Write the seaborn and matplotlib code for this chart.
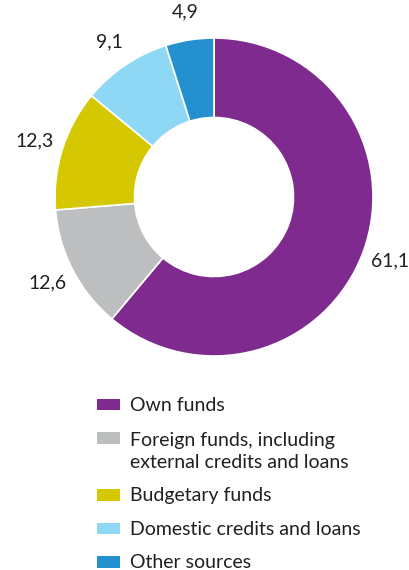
import matplotlib
matplotlib.use("Agg")
import matplotlib.pyplot as plt
from matplotlib.patches import Rectangle
import seaborn as sns

# Structure of investment financing sources, %
categories = [
    "Own funds",
    "Foreign funds, including\nexternal credits and loans",
    "Budgetary funds",
    "Domestic credits and loans",
    "Other sources",
]
shares = [61.1, 12.6, 12.3, 9.1, 4.9]
value_labels = ["61,1", "12,6", "12,3", "9,1", "4,9"]
colors = sns.color_palette(["#7E2A8E", "#BDBEC0", "#D6C800", "#8FD8F5", "#2490D0"])

sns.set_theme(style="white")
plt.rcParams["font.family"] = ["Lato", "DejaVu Sans"]
TEXT = "#231F20"
FS = 14

W, H = 409, 570
fig = plt.figure(figsize=(W / 100, H / 100), dpi=100)

# donut axes: centre at (214, 197) px from top, radius 159 px
cx, cy, r_px = 214, 197, 159
lim = 1.3
side = 2 * lim * r_px
ax = fig.add_axes([(cx - side / 2) / W, (H - cy - side / 2) / H, side / W, side / H])
wedges, texts = ax.pie(
    shares,
    colors=colors,
    labels=value_labels,
    startangle=90,
    counterclock=False,
    labeldistance=1.18,
    radius=1.0,
    wedgeprops=dict(width=0.5, edgecolor="white", linewidth=1.2),
    textprops=dict(fontsize=FS, color=TEXT),
)
for t in texts:
    t.set_ha("center")
    t.set_va("center")
ax.set_xlim(-lim, lim)
ax.set_ylim(-lim, lim)
ax.set_aspect("equal")
ax.axis("off")

# legend: colour swatch aligned with the first line of each entry
sw_x, sw_w, sw_h = 97, 23, 11.5
txt_x = 130
row_gap, line_gap = 33.5, 23.5
yc = 404.5
for label, col in zip(categories, colors):
    extra = label.count("\n")
    fig.patches.append(Rectangle(
        (sw_x / W, 1 - (yc + sw_h / 2) / H), sw_w / W, sw_h / H,
        transform=fig.transFigure, facecolor=col, edgecolor="none"))
    # baseline alignment refers to the last line of a wrapped label
    fig.text(txt_x / W, 1 - (yc + 6.5 + line_gap * extra) / H, label,
             fontsize=FS, color=TEXT, ha="left", va="baseline", linespacing=1.34)
    yc += row_gap + line_gap * extra

fig.savefig("out.png", dpi=100, facecolor="white")
